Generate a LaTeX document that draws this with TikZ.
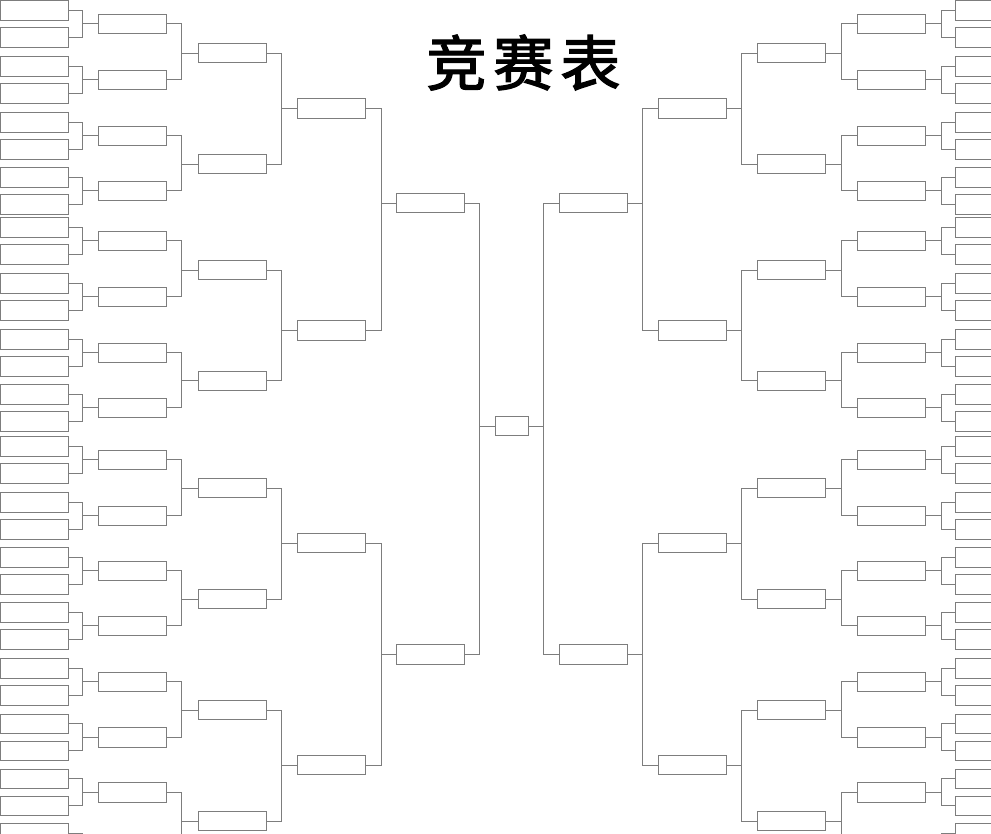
\documentclass[tikz,border=0pt]{standalone}
\usepackage{fontspec}
\newfontfamily\cjk{Noto Sans CJK SC}[FakeBold=2.2]
\definecolor{linec}{RGB}{125,125,125}
\tikzset{
  slot/.style={draw=linec, line width=1pt, fill=white, minimum width=68pt, minimum height=19.5pt, inner sep=0pt, outer sep=0pt, anchor=north west},
  link/.style={draw=linec, line width=1pt},
  titletext/.style={font=\cjk\fontsize{60}{60}\selectfont, inner sep=0pt, text=black}
}
\begin{document}
\begin{tikzpicture}[x=1pt,y=-1pt]
\useasboundingbox (0,0) rectangle (991,833);
\fill[white] (0,0) rectangle (991,833);
\clip (0,0) rectangle (991,833);
\node[titletext] (title) at (523.4,62.5) {竞\hspace{7pt}赛\hspace{7pt}表};
\foreach \S/\near/\far/\xa/\xb/\xc/\xd/\xe/\va/\vb/\vc/\vd/\ve in
  {L/east/west/0.6/98/198/297.3/396.3/82.3/181.7/281.7/381/479.7,
   R/west/east/955.4/857.4/757.4/658.1/559.1/941.1/841.7/741.7/642.4/543.7}{
  \coordinate (\S v1) at (\va,0);
  \coordinate (\S v2) at (\vb,0);
  \coordinate (\S v3) at (\vc,0);
  \coordinate (\S v4) at (\vd,0);
  \coordinate (\S v5) at (\ve,0);
  % rounds 1 and 2
  \foreach \t [count=\i, evaluate=\i as \ia using int(2*\i-1), evaluate=\i as \ib using int(2*\i)] in
    {14,70,126,181,231,287,343,398,450,506,561,616,672,727.7,782.7,837}{
    \node[slot] (\S2-\i) at (\xb,\t) {};
    \node[slot] (\S1-\ia) at (\xa,\t-13.5) {};
    \node[slot] (\S1-\ib) at (\xa,\t+13.5) {};
    \draw[link] (\S1-\ia.\near) -- (\S1-\ia.\near -| \S v1) -- (\S1-\ib.\near -| \S v1) -- (\S1-\ib.\near);
    \draw[link] (\S2-\i.\far) -- (\S2-\i.\far -| \S v1);
  }
  % round 3
  \foreach \t [count=\i, evaluate=\i as \ia using int(2*\i-1), evaluate=\i as \ib using int(2*\i)] in
    {43.3,154.3,260.3,371,478.3,589.3,700.3,811.3}{
    \node[slot] (\S3-\i) at (\xc,\t) {};
    \draw[link] (\S2-\ia.\near) -- (\S2-\ia.\near -| \S v2) -- (\S2-\ib.\near -| \S v2) -- (\S2-\ib.\near);
    \draw[link] (\S3-\i.\far) -- (\S3-\i.\far -| \S v2);
  }
  % round 4
  \foreach \t [count=\i, evaluate=\i as \ia using int(2*\i-1), evaluate=\i as \ib using int(2*\i)] in
    {98.7,320.7,533.3,755.3}{
    \node[slot] (\S4-\i) at (\xd,\t) {};
    \draw[link] (\S3-\ia.\near) -- (\S3-\ia.\near -| \S v3) -- (\S3-\ib.\near -| \S v3) -- (\S3-\ib.\near);
    \draw[link] (\S4-\i.\far) -- (\S4-\i.\far -| \S v3);
  }
  % round 5
  \foreach \t [count=\i, evaluate=\i as \ia using int(2*\i-1), evaluate=\i as \ib using int(2*\i)] in
    {193.3,644.7}{
    \node[slot] (\S5-\i) at (\xe,\t) {};
    \draw[link] (\S4-\ia.\near) -- (\S4-\ia.\near -| \S v4) -- (\S4-\ib.\near -| \S v4) -- (\S4-\ib.\near);
    \draw[link] (\S5-\i.\far) -- (\S5-\i.\far -| \S v4);
  }
}
% final
\node[slot, minimum width=32.7pt] (C) at (495.3,416.3) {};
\foreach \S/\near/\far in {L/east/west, R/west/east}{
  \draw[link] (\S5-1.\near) -- (\S5-1.\near -| \S v5) -- (\S5-2.\near -| \S v5) -- (\S5-2.\near);
  \draw[link] (C.\far) -- (C.\far -| \S v5);
}
\end{tikzpicture}
\end{document}
